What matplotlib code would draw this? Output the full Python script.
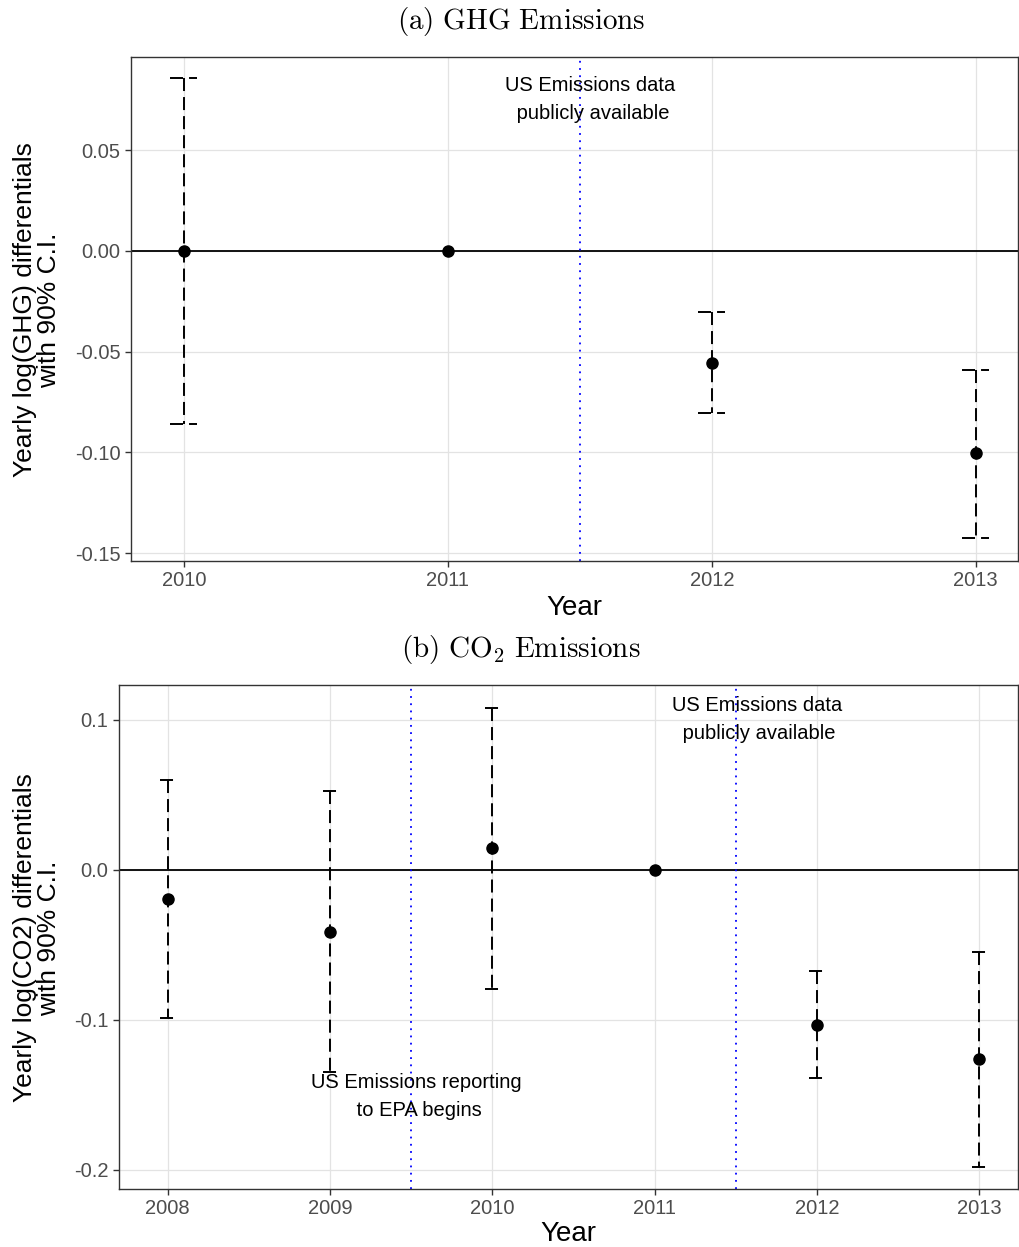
import matplotlib
matplotlib.use("Agg")
import matplotlib.pyplot as plt
import numpy as np

plt.rcParams['font.family'] = ['Liberation Sans', 'DejaVu Sans']
plt.rcParams['mathtext.fontset'] = 'cm'

# Panel (a) GHG
ghg_years = [2010, 2011, 2012, 2013]
ghg_est = [0.0, 0.0, -0.0556, -0.1005]
ghg_lo = [-0.0858, None, -0.0804, -0.1425]
ghg_hi = [0.0858, None, -0.0303, -0.0591]
ghg_ticks = [0.05, 0.00, -0.05, -0.10, -0.15]
ghg_ticklabels = ["0.05", "0.00", "-0.05", "-0.10", "-0.15"]

# Panel (b) CO2
co2_years = [2008, 2009, 2010, 2011, 2012, 2013]
co2_est = [-0.0193, -0.0413, 0.0147, 0.0, -0.1033, -0.126]
co2_lo = [-0.0987, -0.135, -0.0793, None, -0.1387, -0.198]
co2_hi = [0.060, 0.0527, 0.108, None, -0.0673, -0.0547]
co2_ticks = [0.1, 0.0, -0.1, -0.2]
co2_ticklabels = ["0.1", "0.0", "-0.1", "-0.2"]

fig = plt.figure(figsize=(10.20, 12.47), dpi=100)

DASH = (0, (6.7, 3.1))
GRID = '#e3e3e3'
TICKC = '#4d4d4d'
ANN = 14.5


def style(ax):
    for s in ax.spines.values():
        s.set_color('#333333')
        s.set_linewidth(1.0)
    ax.grid(True, color=GRID, linewidth=0.9)
    ax.set_axisbelow(True)
    ax.tick_params(colors='#333333', labelcolor=TICKC, labelsize=14.5, length=4, width=1)


def draw(ax, years, est, lo, hi, capw):
    ax.axhline(0, color='black', lw=1.3, zorder=2)
    for x, e, l, h in zip(years, est, lo, hi):
        if l is not None:
            ax.plot([x, x], [h, l], color='black', lw=1.4, linestyle=DASH, zorder=3)
            ax.plot([x - capw, x + capw], [h, h], color='black', lw=1.4, linestyle=DASH, zorder=3)
            ax.plot([x - capw, x + capw], [l, l], color='black', lw=1.4, linestyle=DASH, zorder=3)
    ax.plot(years, est, 'o', color='black', markersize=8, zorder=4)


# Top panel
ax1 = fig.add_axes([131/1020, 1-561/1247, (1018-131)/1020, (561-57)/1247])
style(ax1)
draw(ax1, ghg_years, ghg_est, ghg_lo, ghg_hi, 0.051)
ax1.axvline(2011.5, color='blue', lw=1.3, linestyle=(0, (1, 3)), zorder=2)
ax1.text(2011.54, 0.0750, "US Emissions data\n publicly available", ha='center', va='center',
         fontsize=ANN, color='black', linespacing=1.6)
ax1.set_xlim(2009.8, 2013.16)
ax1.set_ylim(-0.1539, 0.0963)
ax1.set_xticks(ghg_years)
ax1.set_xticklabels([str(y) for y in ghg_years])
ax1.set_yticks(ghg_ticks)
ax1.set_yticklabels(ghg_ticklabels)
ax1.set_xlabel("Year", fontsize=20, labelpad=3)
ax1.set_ylabel("Yearly log(GHG) differentials\nwith 90% C.I.", fontsize=19, linespacing=1.0, va='center')
ax1.yaxis.set_label_coords((37-131)/887, (561-310)/504)

# Bottom panel
ax2 = fig.add_axes([119/1020, 1-1189/1247, (1018-119)/1020, (1189-685)/1247])
style(ax2)
draw(ax2, co2_years, co2_est, co2_lo, co2_hi, 0.045)
ax2.axvline(2009.5, color='blue', lw=1.3, linestyle=(0, (1, 3)), zorder=2)
ax2.axvline(2011.5, color='blue', lw=1.3, linestyle=(0, (1, 3)), zorder=2)
ax2.text(2011.63, 0.1003, "US Emissions data\n publicly available", ha='center', va='center',
         fontsize=ANN, color='black', linespacing=1.6)
ax2.text(2009.53, -0.1507, "US Emissions reporting\n to EPA begins", ha='center', va='center',
         fontsize=ANN, color='black', linespacing=1.6)
ax2.set_xlim(2007.70, 2013.24)
ax2.set_ylim(-0.2127, 0.1233)
ax2.set_xticks(co2_years)
ax2.set_xticklabels([str(y) for y in co2_years])
ax2.set_yticks(co2_ticks)
ax2.set_yticklabels(co2_ticklabels)
ax2.set_xlabel("Year", fontsize=20, labelpad=2)
ax2.set_ylabel("Yearly log(CO2) differentials\nwith 90% C.I.", fontsize=19, linespacing=1.0, va='center')
ax2.yaxis.set_label_coords((37-119)/899, (1189-938)/504)

# Panel titles
fig.text(521/1020, 1-21/1247, r"$\mathrm{(a)\ GHG\ Emissions}$", fontsize=21, ha='center', va='center')
fig.text(521/1020, 1-650/1247, r"$\mathrm{(b)\ CO_2\ Emissions}$", fontsize=21, ha='center', va='center')

fig.savefig("out.png", dpi=100)
